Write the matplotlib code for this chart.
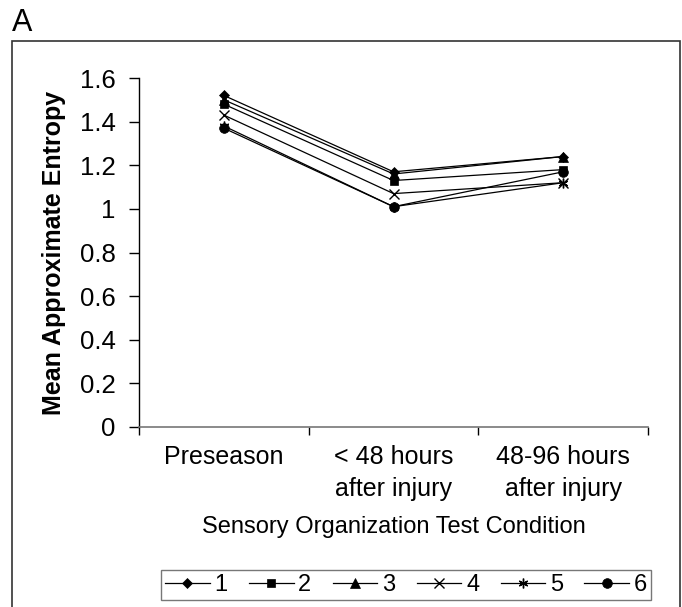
import matplotlib
matplotlib.use("Agg")
import matplotlib.pyplot as plt
from matplotlib.patches import Rectangle

plt.rcParams['font.family'] = ['Liberation Sans', 'DejaVu Sans']

categories = ["Preseason", "< 48 hours\nafter injury", "48-96 hours\nafter injury"]
series_labels = ["1", "2", "3", "4", "5", "6"]
s1 = [1.52, 1.17, 1.24]
s2 = [1.48, 1.13, 1.18]
s3 = [1.50, 1.16, 1.24]
s4 = [1.43, 1.07, 1.12]
s5 = [1.38, 1.01, 1.12]
s6 = [1.37, 1.01, 1.17]
yticks = [0, 0.2, 0.4, 0.6, 0.8, 1, 1.2, 1.4, 1.6]
ytick_labels = ["0", "0.2", "0.4", "0.6", "0.8", "1", "1.2", "1.4", "1.6"]

series = [s1, s2, s3, s4, s5, s6]
markers = ['D', 's', '^', 'x', (6, 2, 0), 'o']
msizes = [5.5, 6, 6.5, 6.5, 7, 7]

W, H = 682, 607
fig = plt.figure(figsize=(W/100, H/100), dpi=100)
ax = fig.add_axes([139/W, 1-427/H, (648-139)/W, (427-78)/H])

x = list(range(len(categories)))
handles = []
for i, (s, m, ms, lab) in enumerate(zip(series, markers, msizes, series_labels)):
    thin = i in (3, 4)
    h, = ax.plot(x, s, color='black', lw=0.9, marker=m, markersize=ms,
                 markerfacecolor='black', markeredgecolor='black',
                 markeredgewidth=1.0 if thin else 0.5, label=lab)
    handles.append(h)

ax.set_xlim(-0.5, 2.5)
ax.set_ylim(0, 1.6)
ax.set_yticks(yticks)
ax.set_yticklabels(ytick_labels, fontsize=18.5)
ax.set_xticks(x)
ax.set_xticklabels(categories, fontsize=18, linespacing=1.4)
ax.tick_params(axis='x', length=0, pad=13)
ax.set_xticks([-0.5, 0.5, 1.5, 2.5], minor=True)
ax.tick_params(axis='x', which='minor', length=6, direction='out', color='black', width=1)
ax.tick_params(axis='y', length=7, direction='out', width=1, pad=10)
for sp in ['top', 'right']:
    ax.spines[sp].set_visible(False)
ax.spines['left'].set_color('black')
ax.spines['bottom'].set_color('#777777')
ax.spines['left'].set_linewidth(1)
ax.spines['bottom'].set_linewidth(1.2)

ax.set_ylabel("Mean Approximate Entropy", fontsize=18, fontweight='bold', labelpad=10)
ax.set_xlabel("Sensory Organization Test Condition", fontsize=17, labelpad=11)

leg = fig.legend(handles=handles, labels=series_labels, ncol=6, loc='center',
                 bbox_to_anchor=(406/W, 1-585/H), fontsize=17, frameon=True,
                 fancybox=False, edgecolor='#555555', handlelength=1.9,
                 handletextpad=0.2, columnspacing=0.9, borderpad=0.15,
                 borderaxespad=0)
leg.get_frame().set_linewidth(1)

# outer panel frame
fig.add_artist(Rectangle((12/W, -0.1), (680-12)/W, 1-41/H+0.1, transform=fig.transFigure,
                         fill=False, edgecolor='#333333', lw=1.2))

fig.text(12/W, 1-31/H, "A", fontsize=22, ha='left', va='baseline')

fig.savefig("out.png", dpi=100)
